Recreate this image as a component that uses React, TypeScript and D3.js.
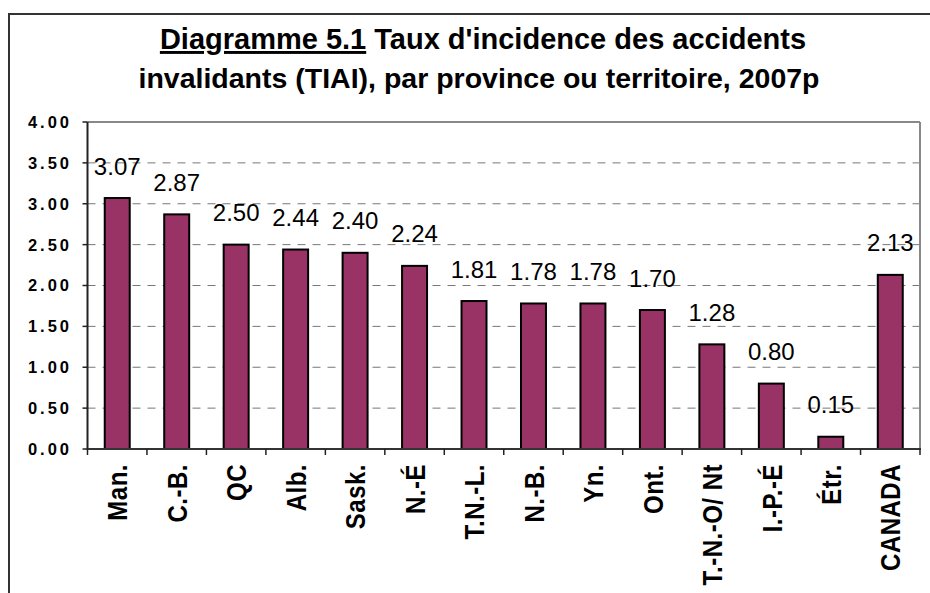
import React from "react";
import * as d3 from "d3";

const categories = ["Man.", "C.-B.", "QC", "Alb.", "Sask.", "N.-É", "T.N.-L.", "N.-B.", "Yn.", "Ont.", "T.-N.-O/ Nt", "I.-P.-É", "Étr.", "CANADA"];
const values = [3.07, 2.87, 2.5, 2.44, 2.4, 2.24, 1.81, 1.78, 1.78, 1.7, 1.28, 0.8, 0.15, 2.13];
const yTicks = [0, 0.5, 1, 1.5, 2, 2.5, 3, 3.5, 4];
const titleUnderlined = "Diagramme 5.1";
const titleLine1Rest = " Taux d'incidence des accidents";
const titleLine2 = "invalidants (TIAI), par province ou territoire, 2007p";

const W = 930;
const H = 593;
const plot = { left: 87.5, right: 920, top: 122, bottom: 449 };
const FONT = "'Liberation Sans', Arial, sans-serif";

export default function App() {
  const x = d3
    .scaleBand<string>()
    .domain(categories)
    .range([plot.left, plot.right])
    .paddingInner(0.58)
    .paddingOuter(0.29);
  const y = d3.scaleLinear().domain([0, 4]).range([plot.bottom, plot.top]);
  const step = x.step();
  const boundaries = d3.range(categories.length + 1).map((i) => plot.left + i * step);

  return (
    <svg
      width={W}
      height={H}
      style={{ position: "absolute", left: 0, top: 0, background: "#fff" }}
      fontFamily={FONT}
    >
      <rect x={0} y={0} width={W} height={H} fill="#fff" />
      {/* outer frame */}
      <rect x={9} y={14} width={1200} height={1200} fill="none" stroke="#333" strokeWidth={2} />

      {/* title */}
      <text x={483} y={49} textAnchor="middle" fontSize={29} fontWeight="bold" fill="#000">
        <tspan textDecoration="underline">{titleUnderlined}</tspan>
        <tspan>{titleLine1Rest}</tspan>
      </text>
      <text x={479} y={88} textAnchor="middle" fontSize={28.5} fontWeight="bold" fill="#000">
        {titleLine2}
      </text>

      {/* gridlines */}
      {yTicks
        .filter((t) => t > 0 && t < 4)
        .map((t) => (
          <line
            key={"g" + t}
            x1={plot.left}
            x2={plot.right}
            y1={y(t)}
            y2={y(t)}
            stroke="#777"
            strokeWidth={1}
            strokeDasharray="8,7"
          />
        ))}

      {/* plot border top/right */}
      <line x1={plot.left} x2={plot.right} y1={plot.top} y2={plot.top} stroke="#888" strokeWidth={2} />
      <line x1={plot.right} x2={plot.right} y1={plot.top} y2={plot.bottom} stroke="#888" strokeWidth={2} />

      {/* bars */}
      {categories.map((c, i) => (
        <rect
          key={c}
          x={x(c)!}
          y={y(values[i])}
          width={x.bandwidth()}
          height={y(0) - y(values[i])}
          fill="#993366"
          stroke="#000"
          strokeWidth={2}
        />
      ))}

      {/* value labels */}
      {categories.map((c, i) => (
        <text
          key={"v" + c}
          x={x(c)! + x.bandwidth() / 2}
          y={y(values[i]) - 23.5}
          textAnchor="middle"
          fontSize={24}
          fill="#000"
        >
          {values[i].toFixed(2)}
        </text>
      ))}

      {/* axes */}
      <line x1={plot.left} x2={plot.left} y1={plot.top} y2={plot.bottom + 1} stroke="#222" strokeWidth={2} />
      <line x1={plot.left} x2={plot.right + 1} y1={plot.bottom} y2={plot.bottom} stroke="#333" strokeWidth={2} />

      {/* y ticks */}
      {yTicks.map((t) => (
        <g key={"yt" + t}>
          <line x1={plot.left - 5} x2={plot.left} y1={y(t)} y2={y(t)} stroke="#222" strokeWidth={1.5} />
          <text
            x={72}
            y={y(t)}
            dy="0.36em"
            textAnchor="end"
            fontSize={16.5}
            fontWeight="bold"
            letterSpacing={3}
            fill="#000"
          >
            {t.toFixed(2)}
          </text>
        </g>
      ))}

      {/* x ticks */}
      {boundaries.map((bx, i) => (
        <line key={"xt" + i} x1={bx} x2={bx} y1={plot.bottom} y2={plot.bottom + 6} stroke="#222" strokeWidth={1.5} />
      ))}

      {/* x labels */}
      {categories.map((c) => (
        <text
          key={"xl" + c}
          transform={`translate(${x(c)! + x.bandwidth() / 2},464) rotate(-90) scale(1,1.18)`}
          textAnchor="end"
          dy="0.36em"
          fontSize={24}
          fontWeight="bold"
          letterSpacing={0.5}
          fill="#000"
        >
          {c}
        </text>
      ))}
    </svg>
  );
}
